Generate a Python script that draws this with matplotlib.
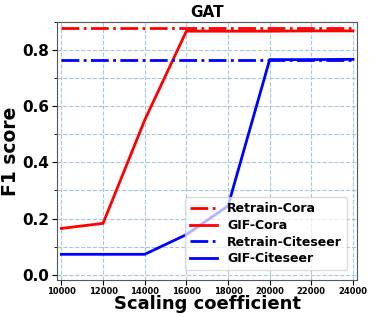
import numpy as np
import matplotlib
matplotlib.use('Agg')
import matplotlib.pyplot as plt
from matplotlib.ticker import MultipleLocator

# data
scales = [10000, 12000, 14000, 16000, 18000, 20000, 22000, 24000]
retrain_cora = [0.877] * 8
gif_cora = [0.165, 0.183, 0.55, 0.866, 0.866, 0.866, 0.867, 0.867]
retrain_citeseer = [0.762] * 8
gif_citeseer = [0.073, 0.073, 0.073, 0.143, 0.245, 0.765, 0.765, 0.766]

fig, ax = plt.subplots(figsize=(3.74, 3.18), dpi=100)
ax.plot(scales, retrain_cora, 'r-.', lw=2, label='Retrain-Cora')
ax.plot(scales, gif_cora, 'r-', lw=2, label='GIF-Cora')
ax.plot(scales, retrain_citeseer, 'b-.', lw=2, label='Retrain-Citeseer')
ax.plot(scales, gif_citeseer, 'b-', lw=2, label='GIF-Citeseer')

ax.set_xlim(9800, 24200)
ax.set_ylim(-0.02, 0.9)
ax.set_xticks(scales)
ax.yaxis.set_major_locator(MultipleLocator(0.2))
ax.yaxis.set_minor_locator(MultipleLocator(0.1))
ax.grid(True, which='both', ls='--', color='#a8c8e0', lw=0.8)
ax.set_axisbelow(True)
ax.tick_params(axis='x', pad=1.5)
ax.tick_params(axis='y', pad=2)

for lab in ax.get_xticklabels():
    lab.set_fontsize(6)
    lab.set_fontweight('bold')
for lab in ax.get_yticklabels():
    lab.set_fontsize(11)
    lab.set_fontweight('bold')

for s in ax.spines.values():
    s.set_color('#555555')

ax.set_title('GAT', fontsize=11, fontweight='bold', pad=3)
ax.set_xlabel('Scaling coefficient', fontsize=13, fontweight='bold', labelpad=-1)
ax.set_ylabel('F1 score', fontsize=13.5, fontweight='bold', labelpad=2)
ax.legend(loc='lower right', prop={'weight': 'bold', 'size': 9}, framealpha=0.7,
          handlelength=2.2, labelspacing=0.3, borderpad=0.4, borderaxespad=0.8)

plt.subplots_adjust(left=0.153, right=0.955, top=0.932, bottom=0.118)
plt.savefig('out.png', dpi=100)
